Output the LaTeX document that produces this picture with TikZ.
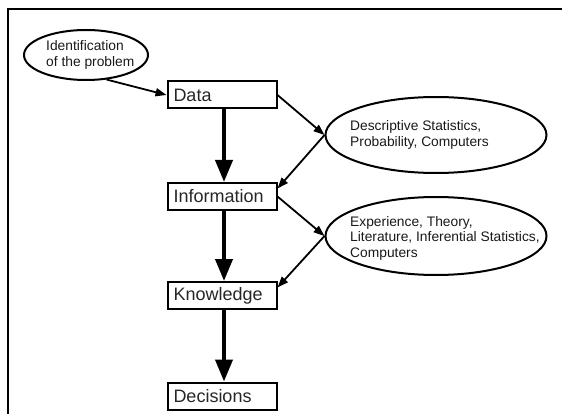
\documentclass[tikz,border=0pt]{standalone}
\usepackage{fontspec}
\setmainfont{Liberation Sans}
\usetikzlibrary{arrows.meta}
\usetikzlibrary{shapes.geometric}

\begin{document}
\begin{tikzpicture}[x=1pt,y=-1pt,>/.tip={Triangle[length=11pt,width=8pt]},
	stage/.style={draw,line width=2pt,shape=rectangle,text width=97pt,align=left,minimum height=27pt,inner xsep=6pt,inner ysep=0pt,font=\fontsize{18}{20}\selectfont,text=black!85},
	oval/.style={draw,line width=2pt,shape=ellipse,inner sep=0pt},
	ovaltext/.style={anchor=west,align=left,inner sep=0pt,font=\fontsize{13.8}{15.5}\selectfont,text=black!90},
	flow/.style={line width=4pt,-{Triangle[length=22pt,width=17pt]}},
	link/.style={line width=1.8pt,->}]
	\useasboundingbox (0,0) rectangle (562,414);
	\draw[line width=2pt] (8,414) -- (8,9) -- (562,9);
	
	\draw (86,55) node (idprob) [oval,minimum width=124pt,minimum height=50pt] {};
	\draw (46,55) node (idtext) [ovaltext] {Identification\\of the problem};
	\draw (222,95) node (data) [stage] {Data};
	\draw (222,196.5) node (info) [stage] {Information};
	\draw (222,295.5) node (know) [stage] {Knowledge};
	\draw (222,396) node (dec) [stage] {Decisions};
	\draw (436,135) node (desc) [oval,minimum width=221pt,minimum height=76pt] {};
	\draw (350,135) node (desctext) [ovaltext] {Descriptive Statistics,\\Probability, Computers};
	\draw (436,236) node (exper) [oval,minimum width=221pt,minimum height=78pt] {};
	\draw (350,238) node (expertext) [ovaltext] {Experience, Theory,\\Literature, Inferential Statistics,\\Computers};
	
	\draw[flow] ([xshift=2pt]data.south) -- ([xshift=2pt]info.north);
	\draw[flow] ([xshift=2pt]info.south) -- ([xshift=2pt]know.north);
	\draw[flow] ([xshift=2pt]know.south) -- ([xshift=2pt]dec.north);
	
	\draw[link] (idprob.-50) -- (data.west);
	\draw[link] (data.east) -- (desc.west);
	\draw[link] (desc.west) -- ([yshift=8pt]info.east);
	\draw[link] (info.east) -- (exper.west);
	\draw[link] (exper.west) -- ([yshift=8pt]know.east);
\end{tikzpicture}
\end{document}
